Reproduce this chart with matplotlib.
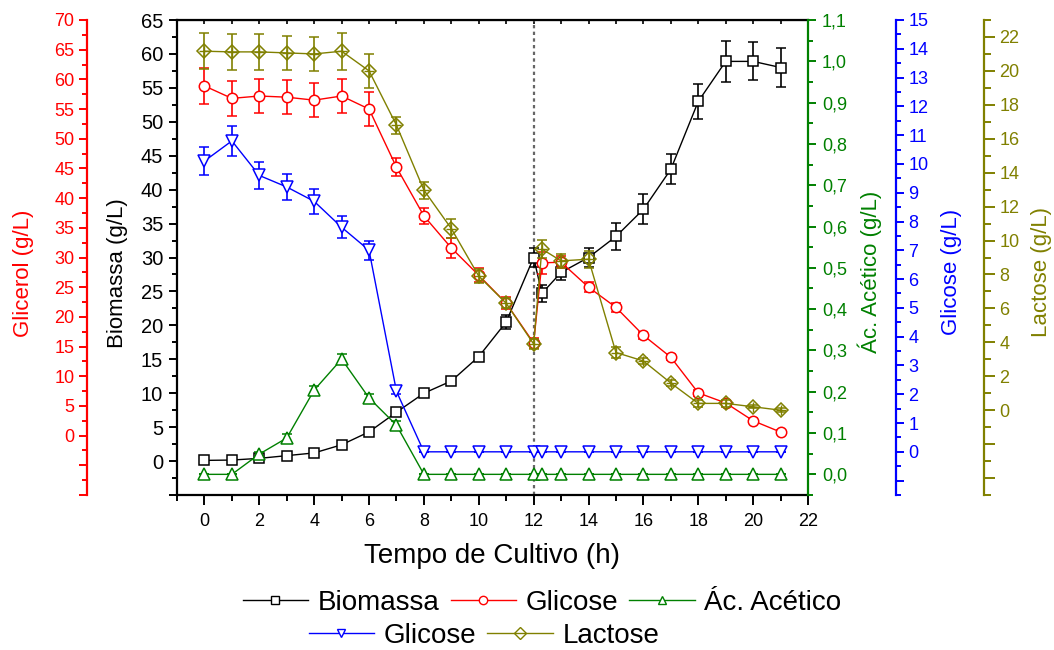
import matplotlib
matplotlib.use("Agg")
import matplotlib.pyplot as plt
from matplotlib.lines import Line2D
from matplotlib.ticker import MultipleLocator, FuncFormatter

plt.rcParams["font.family"] = ["Liberation Sans", "DejaVu Sans"]

# tempo de cultivo (h)
tempo = [0, 1, 2, 3, 4, 5, 6, 7, 8, 9, 10, 11, 12, 12.3, 13, 14, 15, 16, 17, 18, 19, 20, 21]

biomassa = [0.1, 0.15, 0.4, 0.8, 1.2, 2.4, 4.3, 7.2, 10.0, 11.8, 15.4, 20.5, 30.0, 24.7,
            27.8, 30.0, 33.1, 37.1, 43.0, 53.0, 58.9, 58.9, 58.0]
biomassa_err = [0.3, 0.3, 0.3, 0.3, 0.3, 0.3, 0.4, 0.5, 0.3, 0.3, 0.5, 1.0, 1.4, 1.2,
                1.1, 1.4, 2.0, 2.2, 2.2, 2.6, 3.0, 2.8, 2.9]

glicose_r = [58.9, 56.8, 57.2, 57.0, 56.5, 57.2, 55.0, 45.2, 37.0, 31.6, 27.0, 22.3, 15.6, 29.1,
             29.2, 25.0, 21.6, 16.9, 13.2, 7.2, 5.5, 2.5, 0.6]
glicose_r_err = [3.0, 2.9, 2.9, 2.9, 2.9, 2.9, 2.8, 1.5, 1.4, 1.6, 1.2, 1.0, 0.8, 1.8,
                 1.0, 0.8, 0.8, 0.6, 0.5, 0.5, 0.4, 0.4, 0.4]

acetico = [0.0, 0.0, 0.049, 0.088, 0.204, 0.279, 0.185, 0.119, 0.0, 0.0, 0.0, 0.0, 0.0, 0.0,
           0.0, 0.0, 0.0, 0.0, 0.0, 0.0, 0.0, 0.0, 0.0]
acetico_err = [0.0, 0.0, 0.006, 0.01, 0.01, 0.012, 0.01, 0.01, 0, 0, 0, 0, 0, 0,
               0, 0, 0, 0, 0, 0, 0, 0, 0]

glicose_b = [10.1, 10.8, 9.6, 9.2, 8.7, 7.8, 7.0, 2.1, 0.0, 0.0, 0.0, 0.0, 0.0, 0.0,
             0.0, 0.0, 0.0, 0.0, 0.0, 0.0, 0.0, 0.0, 0.0]
glicose_b_err = [0.5, 0.53, 0.47, 0.46, 0.43, 0.38, 0.34, 0.1, 0, 0, 0, 0, 0, 0,
                 0, 0, 0, 0, 0, 0, 0, 0, 0]

lactose = [21.16, 21.12, 21.12, 21.06, 21.0, 21.16, 20.0, 16.8, 12.97, 10.7, 7.9, 6.3, 3.9, 9.5,
           8.8, 8.9, 3.4, 2.9, 1.6, 0.4, 0.4, 0.2, 0.0]
lactose_err = [1.07, 1.07, 1.07, 1.0, 1.0, 1.1, 1.0, 0.5, 0.5, 0.55, 0.4, 0.3, 0.3, 0.55,
               0.4, 0.5, 0.3, 0.2, 0.2, 0.2, 0.2, 0.1, 0.1]

PRETO, VERMELHO, VERDE, AZUL, OLIVA = "#000000", "#ff0000", "#008000", "#0000ff", "#808000"

W, H = 1054, 650
fig = plt.figure(figsize=(W / 100, H / 100), dpi=100)
x0, x1, y0, y1 = 177, 808, 20, 495
ax = fig.add_axes([x0 / W, 1 - y1 / H, (x1 - x0) / W, (y1 - y0) / H])


def fx(px):
    # posicao horizontal em pixels -> fracao do eixo principal
    return (px - x0) / (x1 - x0)


def eixo_extra(pos, cor):
    a = ax.twinx()
    a.patch.set_visible(False)
    for s in ("top", "bottom", "left", "right"):
        a.spines[s].set_visible(False)
    lado = "left" if pos < 0 else "right"
    a.yaxis.set_ticks_position(lado)
    a.spines[lado].set_visible(True)
    a.spines[lado].set_position(("axes", pos))
    a.spines[lado].set_color(cor)
    a.spines[lado].set_linewidth(1.6)
    a.tick_params(axis="y", which="both", colors=cor, labelcolor=cor, width=1.4)
    a.tick_params(axis="y", which="major", length=6, labelsize=13, pad=3)
    a.tick_params(axis="y", which="minor", length=3.5)
    return a


ax_red = eixo_extra(fx(87), VERMELHO)
ax_ac = eixo_extra(1.0, VERDE)
ax_gb = eixo_extra(fx(896), AZUL)
ax_lac = eixo_extra(fx(984), OLIVA)

# eixo principal: biomassa
for s in ax.spines.values():
    s.set_linewidth(1.6)
ax.spines["right"].set_visible(False)
ax.set_xlim(-1, 22)
ax.set_ylim(-5, 65)
ax.xaxis.set_major_locator(MultipleLocator(2))
ax.xaxis.set_minor_locator(MultipleLocator(1))
ax.yaxis.set_major_locator(MultipleLocator(5))
ax.yaxis.set_minor_locator(MultipleLocator(2.5))
ax.yaxis.set_major_formatter(FuncFormatter(lambda v, p: f"{v:.0f}" if v >= 0 else ""))
ax.tick_params(which="both", direction="out", width=1.4)
ax.tick_params(axis="x", which="major", length=7, labelsize=13, pad=6)
ax.tick_params(axis="x", which="minor", length=4)
ax.tick_params(axis="y", which="major", length=6, labelsize=14.5, pad=4)
ax.tick_params(axis="y", which="minor", length=3.5)
topo = ax.secondary_xaxis("top")
topo.xaxis.set_major_locator(MultipleLocator(1))
topo.tick_params(direction="in", length=3, width=1.2, labeltop=False)

ax.axvline(12, color="#666666", lw=1.6, ls=(0, (1.5, 1.5)), zorder=1)

# eixos secundarios
ax_red.set_ylim(-10, 70)
ax_red.yaxis.set_major_locator(MultipleLocator(5))
ax_red.yaxis.set_minor_locator(MultipleLocator(2.5))
ax_red.yaxis.set_major_formatter(FuncFormatter(lambda v, p: f"{v:.0f}" if v >= 0 else ""))

ax_ac.set_ylim(-0.05, 1.1)
ax_ac.yaxis.set_major_locator(MultipleLocator(0.1))
ax_ac.yaxis.set_minor_locator(MultipleLocator(0.05))
ax_ac.yaxis.set_major_formatter(FuncFormatter(lambda v, p: f"{v:.1f}".replace(".", ",") if v > -0.01 else ""))
ax_ac.tick_params(axis="y", which="major", pad=4)

ax_gb.set_ylim(-1.5, 15)
ax_gb.yaxis.set_major_locator(MultipleLocator(1))
ax_gb.yaxis.set_minor_locator(MultipleLocator(0.5))
ax_gb.yaxis.set_major_formatter(FuncFormatter(lambda v, p: f"{v:.0f}" if v > -0.1 else ""))

ax_lac.set_ylim(-5, 23)
ax_lac.yaxis.set_major_locator(MultipleLocator(2))
ax_lac.yaxis.set_minor_locator(MultipleLocator(1))
ax_lac.yaxis.set_major_formatter(FuncFormatter(lambda v, p: f"{v:.0f}" if v > -0.1 else ""))
ax_lac.tick_params(axis="y", which="major", length=8)
ax_lac.tick_params(axis="y", which="minor", length=5)

# series
estilo = dict(lw=1.0, elinewidth=1.2, capsize=3.5, capthick=1.2, markeredgewidth=1.1)
ax.errorbar(tempo, biomassa, yerr=biomassa_err, color=PRETO, marker="s", ms=6.8,
            mfc="white", **estilo)
ax_red.errorbar(tempo, glicose_r, yerr=glicose_r_err, color=VERMELHO, marker="o", ms=7.5,
                mfc="white", **estilo)
ax_ac.errorbar(tempo, acetico, yerr=acetico_err, color=VERDE, marker="^", ms=8.5,
               mfc="white", **estilo)
ax_gb.errorbar(tempo, glicose_b, yerr=glicose_b_err, color=AZUL, marker="v", ms=8.5,
               mfc="white", **estilo)
ax_lac.errorbar(tempo, lactose, yerr=lactose_err, color=OLIVA, marker="D", ms=7.5,
                mfc="none", **estilo)
ax_lac.plot(tempo, lactose, ls="none", marker="+", ms=7.5, mew=1.0, color=OLIVA)

# rotulos dos eixos
def rotulo(px, py, texto, cor, tam=16, rot=90):
    fig.text(px / W, 1 - py / H, texto, color=cor, fontsize=tam, rotation=rot,
             ha="center", va="center")


rotulo(24, 273, "Glicerol (g/L)", VERMELHO)
rotulo(118, 273, "Biomassa (g/L)", PRETO)
rotulo(870, 272, "Ác. Acético (g/L)", VERDE)
rotulo(951, 272, "Glicose (g/L)", AZUL)
rotulo(1042, 272, "Lactose (g/L)", OLIVA)
rotulo(492, 556, "Tempo de Cultivo (h)", PRETO, tam=20, rot=0)

# legenda em duas linhas centradas
def item(cor, marc, nome, mfc="white"):
    return Line2D([], [], color=cor, lw=1.0, marker=marc, ms=6, mfc=mfc, mew=1.0, label=nome)


leg_kw = dict(loc="center", frameon=False, fontsize=20, handlelength=2.35,
              handletextpad=0.35, columnspacing=0.4, borderpad=0)
leg1 = fig.legend(handles=[item(PRETO, "s", "Biomassa"), item(VERMELHO, "o", "Glicose"),
                           item(VERDE, "^", "Ác. Acético")],
                  ncol=3, bbox_to_anchor=(542 / W, 1 - 603 / H), **leg_kw)
leg2 = fig.legend(handles=[item(AZUL, "v", "Glicose"), item(OLIVA, "D", "Lactose", "none")],
                  ncol=2, bbox_to_anchor=(484 / W, 1 - 636 / H), **leg_kw)

fig.savefig("out.png", dpi=100)
